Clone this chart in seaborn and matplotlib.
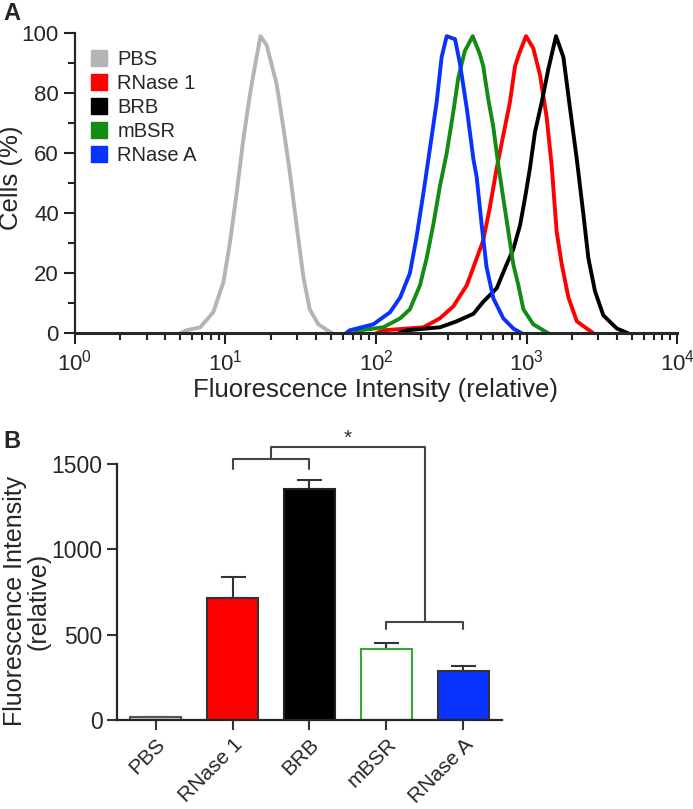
import numpy as np
import pandas as pd
import seaborn as sns
import matplotlib.pyplot as plt
from matplotlib.lines import Line2D
from matplotlib.ticker import LogLocator, NullFormatter, MultipleLocator

samples = ['PBS', 'RNase 1', 'BRB', 'mBSR', 'RNase A']
line_colors = ['#b4b4b4', '#ff0000', '#000000', '#138c13', '#0a32ff']

# Panel A: flow cytometry traces (fluorescence intensity, % cells)
pbs_x = [5.0, 5.5, 6.8, 8.3, 9.7, 10.7, 11.9, 13.1, 14.6, 15.7, 17.1, 18.8, 21.9,
         24.2, 26.9, 29.7, 32.9, 36.3, 41.4, 51.3]
pbs_y = [0, 1, 2, 7, 17, 30, 47, 64, 80, 89, 99, 96, 83, 69, 53, 36, 19, 8, 3, 0]

rnase1_x = [100, 112, 207, 266, 327, 401, 467, 516, 571, 634, 701, 776, 839, 906,
            993, 1109, 1230, 1361, 1469, 1585, 1714, 1897, 2158, 2780]
rnase1_y = [0, 1, 2, 5, 9, 16, 25, 31, 42, 55, 66, 77, 89, 94, 99, 95, 86, 72, 56,
            34, 23, 12, 4, 0]

brb_x = [141, 160, 266, 344, 444, 516, 634, 738, 817, 906, 977, 1054, 1138, 1262,
         1396, 1570, 1758, 1945, 2158, 2382, 2576, 2851, 3236, 3981, 4742]
brb_y = [0, 1, 2, 4, 6.5, 10.5, 15, 23, 28, 36, 45, 55, 67, 77, 88, 99, 92, 75, 58,
         40, 25, 14, 6, 1.6, 0]

mbsr_x = [71, 78, 112, 145, 168, 196, 217, 240, 266, 295, 327, 352, 389, 439, 490,
          516, 557, 601, 650, 701, 757, 817, 883, 953, 1109, 1396]
mbsr_y = [0, 1, 2, 5, 8, 16, 25, 36, 49, 60, 74, 85, 94, 99, 93, 89, 78, 69, 56, 45,
          34, 23, 16, 8, 3, 0]

rnasea_x = [63, 67, 96, 124, 145, 168, 186, 207, 229, 253, 273, 295, 335, 361, 401,
            444, 467, 504, 543, 603, 701, 817, 929]
rnasea_y = [0, 1, 3, 7, 12, 20, 32, 47, 62, 77, 92, 99, 98, 90, 75, 58, 52, 36, 22,
            11.6, 5, 1.6, 0]

# Panel B: mean fluorescence intensity with upper error
means = [16, 713, 1353, 414, 289]
errs = [4, 127, 55, 39, 27]
bar_faces = ['#d2d2d2', '#ff0000', '#000000', '#ffffff', '#0a32ff']
bar_edges = ['#555555', '#333333', '#222222', '#33a833', '#333333']

sns.set_style('ticks')
plt.rcParams['font.family'] = ['Liberation Sans', 'DejaVu Sans']
plt.rcParams['mathtext.default'] = 'regular'
plt.rcParams['axes.linewidth'] = 1.6

traces = pd.concat([
    pd.DataFrame({'intensity': x, 'cells': y, 'sample': s})
    for s, x, y in zip(samples,
                       [pbs_x, rnase1_x, brb_x, mbsr_x, rnasea_x],
                       [pbs_y, rnase1_y, brb_y, mbsr_y, rnasea_y])
])

fig = plt.figure(figsize=(6.93, 8.09), dpi=100)
ax1 = fig.add_axes([0.108, 0.588, 0.869, 0.371])
ax2 = fig.add_axes([0.169, 0.110, 0.555, 0.3165])

# ---- panel A
sns.lineplot(data=traces, x='intensity', y='cells', hue='sample', hue_order=samples,
             palette=dict(zip(samples, line_colors)), sort=False, estimator=None,
             lw=2.8, legend=False, ax=ax1)
ax1.set_xscale('log')
ax1.set_xlim(1, 1e4)
ax1.set_ylim(0, 100)
ax1.set_xticks([1, 10, 100, 1000, 10000])
ax1.set_xticklabels([r'$10^{%d}$' % i for i in range(5)], fontsize=16)
ax1.xaxis.set_minor_locator(LogLocator(base=10, subs=np.arange(2, 10)))
ax1.xaxis.set_minor_formatter(NullFormatter())
ax1.yaxis.set_major_locator(MultipleLocator(20))
ax1.yaxis.set_minor_locator(MultipleLocator(10))
ax1.tick_params(axis='y', labelsize=16)
ax1.tick_params(which='major', length=8, width=1.5, color='#222222')
ax1.tick_params(which='minor', length=5, width=1.5, color='#222222')
ax1.spines['bottom'].set_linewidth(2.2)
ax1.set_xlabel('Fluorescence Intensity (relative)', fontsize=18.5, labelpad=2)
ax1.set_ylabel('Cells (%)', fontsize=18.5)
ax1.yaxis.set_label_coords(-0.086, 0.517)
sns.despine(ax=ax1)

handles = [Line2D([], [], marker='s', ls='', color=c, markersize=11) for c in line_colors]
ax1.legend(handles, samples, loc='upper left', bbox_to_anchor=(0.027, 0.945),
           frameon=False, fontsize=14.5, handlelength=0.8, handletextpad=0.5,
           labelspacing=0.25, borderpad=0, borderaxespad=0)

# ---- panel B
sns.barplot(x=samples, y=means, hue=samples, legend=False, width=0.67,
            palette=dict(zip(samples, bar_faces)), saturation=1, ax=ax2)
for patch, fc, ec in zip(ax2.patches, bar_faces, bar_edges):
    patch.set_facecolor(fc)
    patch.set_edgecolor(ec)
    patch.set_linewidth(1.5)
    patch.set_zorder(2)
ax2.errorbar(range(len(samples)), means, yerr=[np.zeros(len(samples)), errs],
             fmt='none', ecolor='#333333', elinewidth=1.5, capsize=9, capthick=1.5,
             zorder=1)
ax2.set_xlim(-0.5, len(samples) - 0.5)
ax2.set_ylim(0, 1500)
ax2.set_yticks([0, 500, 1000, 1500])
ax2.tick_params(axis='y', labelsize=16.5)
ax2.tick_params(length=7, width=1.5, color='#333333')
ax2.set_xticks(range(len(samples)))
ax2.set_xticklabels(samples, rotation=45, ha='right', rotation_mode='anchor', fontsize=15)
ax2.set_ylabel('Fluorescence Intensity\n(relative)', fontsize=18, linespacing=1.0)
ax2.yaxis.set_label_coords(-0.172, 0.465)
sns.despine(ax=ax2)

# significance brackets
bk = dict(color='#444444', lw=1.5, clip_on=False)
ax2.plot([1, 1, 2, 2], [1468, 1527, 1527, 1468], **bk)
ax2.plot([3, 3, 4, 4], [531, 576, 576, 531], **bk)
ax2.plot([1.5, 1.5, 3.5, 3.5], [1527, 1597, 1597, 576], **bk)
ax2.text(2.5, 1650, '*', ha='center', va='center', fontsize=15, color='#333333')

fig.text(0.005, 0.998, 'A', fontsize=17, fontweight='bold', va='top')
fig.text(0.005, 0.468, 'B', fontsize=17, fontweight='bold', va='top')

fig.savefig('out.png', dpi=100)
